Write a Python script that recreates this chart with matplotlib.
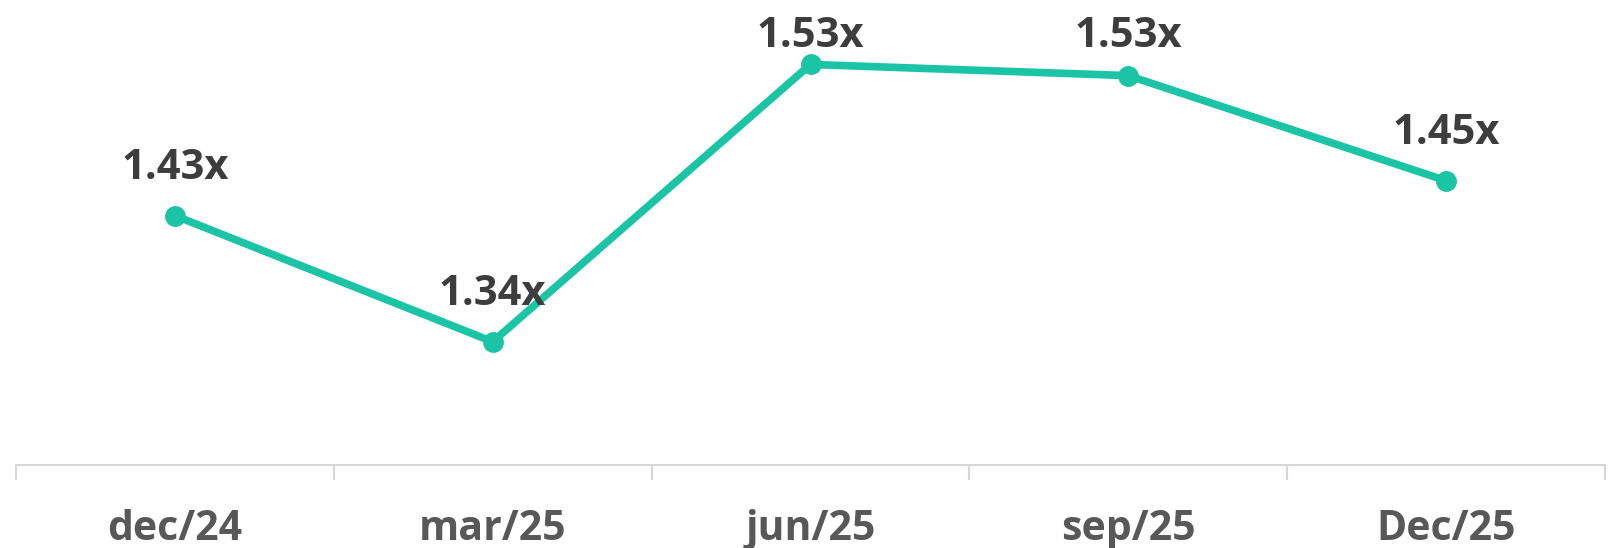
import numpy as np
import matplotlib
matplotlib.use("Agg")
import matplotlib.pyplot as plt

# data
periods = ["dec/24", "mar/25", "jun/25", "sep/25", "Dec/25"]
ratio = [1.43, 1.34, 1.538, 1.53, 1.455]
ratio_labels = ["1.43x", "1.34x", "1.53x", "1.53x", "1.45x"]

plt.rcParams['font.family'] = ['Open Sans', 'DejaVu Sans']

fig = plt.figure(figsize=(16.1, 5.48), dpi=100)
ax = fig.add_axes([16 / 1610, 83 / 548, 1589 / 1610, 465 / 548])

x = np.arange(len(periods))
ax.plot(x, ratio, color="#1cc4a6", lw=5.5, marker="o", ms=14,
        solid_capstyle="round", zorder=3)

ylo, yhi = 1.252, 1.584
ax.set_ylim(ylo, yhi)
ax.set_xlim(-0.5, len(periods) - 0.5)

# value labels above points, kept inside the top of the plot
for xi, v, lab in zip(x, ratio, ratio_labels):
    ly = min(v + 0.034, 1.558)
    ax.text(xi, ly, lab, ha="center", va="center", fontsize=30,
            fontweight="bold", color="#3d3d3d")

# axis styling
for s in ["top", "right", "left"]:
    ax.spines[s].set_visible(False)
ax.spines["bottom"].set_color("#d6d6d6")
ax.spines["bottom"].set_linewidth(1.5)
ax.set_yticks([])

ax.set_xticks(x)
ax.set_xticklabels(periods, fontsize=29.5, fontweight="bold", color="#585858")
ax.tick_params(axis="x", which="major", length=0, pad=32)
ax.set_xticks(np.arange(-0.5, len(periods)), minor=True)
ax.tick_params(axis="x", which="minor", length=11, width=1.5, color="#d6d6d6")

fig.savefig("out.png", dpi=100, facecolor="white")
